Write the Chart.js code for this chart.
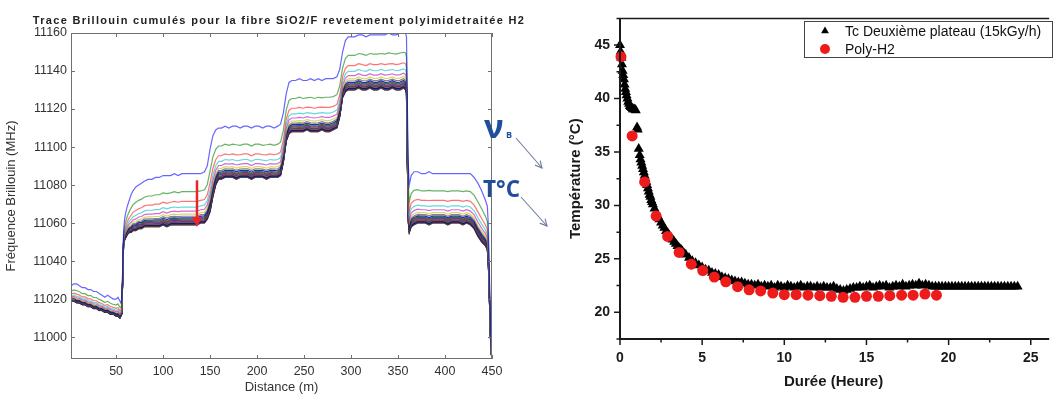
<!DOCTYPE html>
<html><head><meta charset="utf-8">
<script src="https://cdn.jsdelivr.net/npm/chart.js@4.4.0/dist/chart.umd.min.js"></script>
<style>
html,body{margin:0;padding:0;background:#fff;}
body{width:1053px;height:394px;position:relative;overflow:hidden;}
#c1{position:absolute;left:0;top:0;}
#c2{position:absolute;left:555px;top:0;}
#ov{position:absolute;left:0;top:0;pointer-events:none;}
</style></head><body>
<canvas id="c1" width="540" height="394"></canvas>
<canvas id="c2" width="498" height="394"></canvas>
<svg id="ov" width="1053" height="394" xmlns="http://www.w3.org/2000/svg">
  <defs>
    <marker id="ah" markerWidth="8" markerHeight="8" refX="7" refY="4" orient="auto" markerUnits="userSpaceOnUse">
      <path d="M0,0.5 L7,4 L0,7.5" fill="none" stroke="#6c7c9c" stroke-width="1.1"/>
    </marker>
  </defs>
  <text x="279" y="24" text-anchor="middle" font-family="Liberation Sans, Arial, sans-serif" font-size="11" font-weight="700" letter-spacing="1.3" fill="#222">Trace Brillouin cumulés pour la fibre SiO2/F revetement polyimidetraitée H2</text>
  <text x="484" y="138" font-family="Open Sans, sans-serif" font-size="33" font-weight="700" fill="#1f4e9c">ν</text>
  <text x="506" y="138" font-family="Open Sans, sans-serif" font-size="9" font-weight="700" fill="#1f4e9c">B</text>
  <text x="483" y="197" font-family="Open Sans, sans-serif" font-size="22.5" font-weight="700" fill="#1f4e9c">T°C</text>
  <line x1="516" y1="138" x2="542" y2="168" stroke="#6c7c9c" stroke-width="1.1" marker-end="url(#ah)"/>
  <line x1="521" y1="197" x2="547" y2="226" stroke="#6c7c9c" stroke-width="1.1" marker-end="url(#ah)"/>
</svg>
<script>
Chart.defaults.font.family = '"Liberation Sans", Arial, sans-serif';

// ---------- Left chart: Brillouin traces ----------
const distance = [
  2,5,8,11,14,17,20,23,26,29,32,35,38,41,44,47,50,52,54,55,56,57,
  58,59,60,62,64,66,68,71,74,77,80,84,88,92,96,100,104,108,112,116,120,124,128,132,136,140,144,
  147,150,153,156,159,
  162,166,170,174,178,182,186,190,194,198,202,206,210,214,218,222,225,
  228,231,234,
  237,241,245,249,253,257,261,265,269,273,277,281,285,
  288,291,294,297,
  300,304,308,312,316,320,324,328,332,336,340,344,348,352,356,358,359,
  360,361,362,364,
  367,371,375,379,383,387,391,395,399,403,407,411,415,419,423,427,431,435,439,443,445,446,447,448,449,450
];
const topTrace = [
  11027,11028,11028,11027,11026,11026,11025,11025,11024,11024,11023,11022,11021,11022,11021,11020,11020,11021,11019,11018,11020,11036,
  11056,11062,11065,11069,11072,11075,11077,11079,11080,11081,11082,11083,11083,11084,11084,11085,11085,11085,11086,11085,11086,11086,11086,11086,11086,11086,11087,
  11090,11099,11106,11109,11110,
  11110,11111,11110,11111,11111,11110,11111,11111,11110,11111,11111,11110,11111,11111,11110,11111,11112,
  11118,11128,11134,
  11135,11135,11136,11135,11135,11136,11135,11136,11135,11136,11136,11136,11137,
  11141,11150,11156,11158,
  11158,11158,11159,11159,11158,11159,11159,11159,11159,11159,11160,11159,11159,11160,11160,11160,11158,
  11120,11090,11080,11085,
  11087,11087,11086,11086,11087,11086,11086,11086,11086,11086,11086,11086,11086,11086,11086,11086,11084,11081,11077,11072,11069,11060,11040,11015,10995,10990
];
const bottomTrace = [
  11019,11019,11018,11018,11017,11017,11016,11016,11015,11015,11014,11014,11013,11013,11012,11012,11011,11011,11010,11011,11012,11030,
  11050,11051,11052,11054,11055,11055,11056,11056,11057,11057,11058,11058,11058,11058,11058,11059,11058,11059,11059,11059,11059,11059,11059,11059,11059,11060,11060,
  11062,11066,11074,11080,11083,
  11083,11084,11084,11084,11083,11084,11084,11084,11083,11084,11084,11084,11083,11084,11084,11084,11085,
  11092,11103,11107,
  11108,11108,11108,11108,11109,11108,11108,11108,11109,11108,11108,11109,11110,
  11116,11126,11129,11130,
  11130,11130,11131,11130,11130,11131,11130,11130,11131,11130,11130,11131,11130,11130,11131,11130,11128,
  11090,11060,11055,11058,
  11059,11060,11060,11060,11059,11060,11060,11060,11060,11059,11060,11060,11060,11059,11060,11059,11057,11053,11050,11048,11046,11040,11025,11005,10992,10989
];
// relative position of each cumulated trace between the lowest and highest trace
const traceLevels = [1.0,0.65,0.46,0.35,0.27,0.21,0.17,0.14,0.115,0.095,0.08,0.065,0.05,0.04,0.03,0.022,0.015,0.008,0.003,0.0];
const traceColors = ['rgba(0,0,255,0.6)','rgba(0,128,0,0.6)','rgba(255,0,0,0.55)','rgba(0,191,191,0.6)','rgba(191,0,191,0.6)','rgba(191,191,0,0.6)','rgba(64,64,64,0.65)'];
const bandColors = ['rgba(0,0,200,0.85)','rgba(0,90,0,0.8)','rgba(170,0,60,0.8)','rgba(0,120,140,0.8)','rgba(120,0,140,0.85)','rgba(130,120,0,0.75)','rgba(30,30,60,0.85)'];
const leftXTicks = [50,100,150,200,250,300,350,400,450];
const leftYTicks = [11000,11020,11040,11060,11080,11100,11120,11140,11160];
const redArrow = {x:136, from:11082.5, to:11058};

const leftFrame = {
  id:'leftFrame',
  afterDatasetsDraw(chart){
    const {ctx, chartArea:a, scales:{x, y}} = chart;
    ctx.save();
    const ax = Math.round(x.getPixelForValue(redArrow.x));
    const y1 = y.getPixelForValue(redArrow.from), y2 = y.getPixelForValue(redArrow.to);
    ctx.strokeStyle = '#e8262a'; ctx.fillStyle = '#e8262a'; ctx.lineWidth = 2.5;
    ctx.beginPath(); ctx.moveTo(ax, y1); ctx.lineTo(ax, y2 - 8); ctx.stroke();
    ctx.beginPath(); ctx.moveTo(ax - 5, y2 - 10); ctx.lineTo(ax + 5, y2 - 10); ctx.lineTo(ax, y2); ctx.closePath(); ctx.fill();
    ctx.strokeStyle = '#707070'; ctx.lineWidth = 1;
    ctx.strokeRect(a.left + 0.5, a.top + 0.5, a.right - a.left - 1, a.bottom - a.top - 1);
    ctx.beginPath();
    leftXTicks.forEach(v => {
      const px = Math.round(x.getPixelForValue(v)) + 0.5;
      ctx.moveTo(px, a.bottom); ctx.lineTo(px, a.bottom - 4);
      ctx.moveTo(px, a.top); ctx.lineTo(px, a.top + 4);
    });
    leftYTicks.forEach(v => {
      const py = Math.round(y.getPixelForValue(v)) + 0.5;
      ctx.moveTo(a.left, py); ctx.lineTo(a.left + 4, py);
      ctx.moveTo(a.right, py); ctx.lineTo(a.right - 4, py);
    });
    ctx.stroke();
    ctx.restore();
  }
};

const leftDatasets = traceLevels.map((lv, k) => ({
  data: distance.map((d, i) => ({x: d, y: bottomTrace[i] + lv * (topTrace[i] - bottomTrace[i])})),
  borderColor: (k < 7 ? traceColors : bandColors)[k % 7],
  borderWidth: 1.2, pointRadius: 0, tension: 0, fill: false
}));

new Chart(document.getElementById('c1'), {
  type: 'line',
  data: {datasets: leftDatasets},
  options: {
    responsive: false, animation: false, events: [],
    layout: {padding: {top: 33, right: 48, left: 0, bottom: 0}},
    plugins: {legend: {display: false}, tooltip: {enabled: false}},
    scales: {
      x: {type: 'linear', min: 2, max: 450,
          afterBuildTicks: s => { s.ticks = leftXTicks.map(v => ({value: v})); },
          afterFit: s => { s.height = 35; },
          grid: {display: false, drawTicks: false}, border: {display: false},
          ticks: {padding: 5, color: '#333', font: {size: 12.5}, maxRotation: 0, autoSkip: false, callback: v => String(v)},
          title: {display: true, text: 'Distance (m)', color: '#333', font: {size: 13}, padding: {top: 0, bottom: -1}}},
      y: {type: 'linear', min: 10988.5, max: 11160,
          afterBuildTicks: s => { s.ticks = leftYTicks.map(v => ({value: v})); },
          afterFit: s => { s.width = 71; },
          grid: {display: false, drawTicks: false}, border: {display: false},
          ticks: {padding: 4, color: '#333', font: {size: 12.5}, autoSkip: false, callback: v => String(v)},
          title: {display: true, text: 'Fréquence Brillouin (MHz)', color: '#333', font: {size: 13}, padding: {top: 4, bottom: 0}}}
    }
  },
  plugins: [leftFrame]
});

// ---------- Right chart: temperature vs duration ----------
const blackTime = [
  0,0.04,0.08,0.12,0.16,0.2,0.24,0.28,0.32,0.36,0.4,0.45,0.5,0.55,0.6,0.66,0.72,0.78,0.84,0.9,0.96,
  1.04,1.08,1.14,1.2,1.25,1.3,1.35,1.4,1.45,1.5,1.55,1.6,1.65,1.7,1.75,1.8,1.85,1.9,1.95,2.0,
  2.1,2.2,2.3,2.4,2.5,2.6,2.7,2.8,2.9,3.0,3.1,3.2,3.3,3.4,3.5,3.6,3.7,3.8,3.9,4.0,
  4.2,4.4,4.6,4.8,5.0,5.2,5.4,5.6,5.8,6.0,6.2,6.4,6.6,6.8,7.0,7.2,7.4,7.6,7.8,8.0,
  8.2,8.4,8.6,8.8,9.0,9.2,9.4,9.6,9.8,10.0,10.2,10.4,10.6,10.8,11.0,11.2,11.4,11.6,11.8,12.0,
  12.2,12.4,12.6,12.8,13.0,13.2,13.4,13.6,13.8,14.0,14.2,14.4,14.6,14.8,15.0,15.2,15.4,15.6,15.8,16.0,
  16.2,16.4,16.6,16.8,17.0,17.2,17.4,17.6,17.8,18.0,18.2,18.4,18.6,18.8,19.0,
  19.2,19.4,19.6,19.8,20.0,20.2,20.4,20.6,20.8,21.0,21.2,21.4,21.6,21.8,22.0,22.2,22.4,22.6,22.8,23.0,23.2,23.4,23.6,23.8,24.0,24.2
];
const blackTemp = [
  45.0,44.4,43.8,43.2,42.6,42.2,41.8,41.3,40.9,40.6,40.3,40.0,39.7,39.5,39.3,39.2,39.1,39.0,39.0,39.0,38.9,
  37.3,37.1,35.3,34.7,34.3,34.0,33.7,33.4,33.1,32.8,32.5,32.2,31.9,31.6,31.3,31.0,30.8,30.5,30.3,30.1,
  29.7,29.3,29.0,28.7,28.4,28.1,27.9,27.6,27.4,27.2,27.0,26.8,26.6,26.4,26.2,26.0,25.9,25.7,25.5,25.4,
  25.1,24.8,24.6,24.4,24.2,24.0,23.9,23.7,23.6,23.5,23.3,23.2,23.1,23.0,22.9,22.8,22.8,22.7,22.6,22.6,
  22.5,22.6,22.4,22.5,22.4,22.5,22.3,22.5,22.4,22.3,22.5,22.4,22.3,22.4,22.5,22.3,22.4,22.4,22.3,22.4,
  22.3,22.4,22.3,22.3,22.4,22.2,22.1,22.0,22.1,22.2,22.3,22.3,22.4,22.3,22.4,22.5,22.3,22.4,22.5,22.4,
  22.5,22.3,22.4,22.5,22.4,22.6,22.4,22.5,22.6,22.5,22.7,22.5,22.6,22.5,22.4,
  22.4,22.4,22.4,22.4,22.4,22.4,22.4,22.4,22.4,22.4,22.4,22.4,22.4,22.4,22.4,22.4,22.4,22.4,22.4,22.4,22.4,22.4,22.4,22.4,22.4,22.4
];
const redTime = [0.06,0.74,1.5,2.2,2.9,3.6,4.34,5.04,5.74,6.44,7.16,7.86,8.56,9.3,10.0,10.72,11.44,12.16,12.86,13.58,14.3,15.0,15.72,16.42,17.14,17.84,18.56,19.26];
const redTemp = [43.9,36.5,32.2,29.0,27.1,25.6,24.5,23.9,23.3,22.85,22.4,22.1,22.0,21.8,21.65,21.65,21.6,21.55,21.5,21.4,21.4,21.5,21.5,21.55,21.6,21.6,21.7,21.6];
const rightXTicks = [0,5,10,15,20,25];
const rightXMinor = [2.5,7.5,12.5,17.5,22.5];
const rightYTicks = [20,25,30,35,40,45];
const rightYMinor = [17.5,22.5,27.5,32.5,37.5,42.5,47.5];

const rightAxes = {
  id:'rightAxes',
  afterDraw(chart){
    const {ctx, chartArea:a, scales:{x, y}} = chart;
    ctx.save();
    ctx.strokeStyle = '#1a1a1a'; ctx.lineWidth = 2;
    ctx.beginPath();
    ctx.moveTo(a.left, a.top); ctx.lineTo(a.left, a.bottom + 1);
    ctx.moveTo(a.left - 1, a.bottom); ctx.lineTo(a.right + 2, a.bottom);
    ctx.stroke();
    ctx.lineWidth = 1.5;
    ctx.beginPath(); ctx.moveTo(a.left, a.top); ctx.lineTo(a.right + 2, a.top); ctx.stroke();
    ctx.beginPath();
    rightXTicks.forEach(v => { const p = x.getPixelForValue(v); ctx.moveTo(p, a.bottom); ctx.lineTo(p, a.bottom + 6); });
    rightXMinor.forEach(v => { const p = x.getPixelForValue(v); ctx.moveTo(p, a.bottom); ctx.lineTo(p, a.bottom + 3.5); });
    rightYTicks.forEach(v => { const p = y.getPixelForValue(v); ctx.moveTo(a.left, p); ctx.lineTo(a.left - 6, p); });
    rightYMinor.forEach(v => { const p = y.getPixelForValue(v); ctx.moveTo(a.left, p); ctx.lineTo(a.left - 3.5, p); });
    ctx.stroke();
    const lx = 249, ly = 21, lw = 248, lh = 36;
    ctx.lineWidth = 1; ctx.strokeStyle = '#444';
    ctx.strokeRect(lx + 0.5, ly + 0.5, lw, lh);
    chart.data.datasets.forEach((ds, i) => {
      const cy = ly + 10 + i * 18;
      ctx.fillStyle = ds.backgroundColor;
      Chart.helpers.drawPoint(ctx, {pointStyle: ds.pointStyle, radius: ds.pointStyle === 'triangle' ? 4.5 : 5, borderWidth: 0, rotation: 0}, lx + 21, cy);
      ctx.fillStyle = '#111';
      ctx.font = '14px "Liberation Sans", Arial, sans-serif';
      ctx.textBaseline = 'middle'; ctx.textAlign = 'left';
      ctx.fillText(ds.label, lx + 41, cy + 1);
    });
    ctx.restore();
  }
};

new Chart(document.getElementById('c2'), {
  type: 'scatter',
  data: {datasets: [
    {label: 'Tc Deuxième plateau (15kGy/h)', data: blackTime.map((t, i) => ({x: t, y: blackTemp[i]})),
     pointStyle: 'triangle', pointRadius: 5.8, backgroundColor: '#000', borderColor: '#000', borderWidth: 0, order: 2, clip: false},
    {label: 'Poly-H2', data: redTime.map((t, i) => ({x: t, y: redTemp[i]})),
     pointStyle: 'circle', pointRadius: 5.5, backgroundColor: '#ee1b1b', borderColor: '#ee1b1b', borderWidth: 0, order: 1, clip: false}
  ]},
  options: {
    responsive: false, animation: false, events: [],
    layout: {padding: {top: 14, right: 1, left: 0, bottom: 0}},
    plugins: {legend: {display: false}, tooltip: {enabled: false}},
    scales: {
      x: {type: 'linear', min: 0, max: 26,
          afterBuildTicks: s => { s.ticks = rightXTicks.map(v => ({value: v})); },
          afterFit: s => { s.height = 55; },
          grid: {display: false, drawTicks: false}, border: {display: false},
          ticks: {padding: 11, color: '#1a1a1a', font: {size: 14, weight: 'bold'}, maxRotation: 0, autoSkip: false, callback: v => String(v)},
          title: {display: true, text: 'Durée (Heure)', color: '#1a1a1a', font: {size: 15, weight: 'bold'}, padding: {top: 0, bottom: 3}}},
      y: {type: 'linear', min: 17.5, max: 47.5,
          afterBuildTicks: s => { s.ticks = rightYTicks.map(v => ({value: v})); },
          afterFit: s => { s.width = 65; },
          grid: {display: false, drawTicks: false}, border: {display: false},
          ticks: {padding: 10, color: '#1a1a1a', font: {size: 14, weight: 'bold'}, autoSkip: false, callback: v => String(v)},
          title: {display: true, text: 'Température (°C)', color: '#1a1a1a', font: {size: 15, weight: 'bold'}, padding: {top: 12, bottom: 0}}}
    }
  },
  plugins: [rightAxes]
});
</script>
</body></html>
